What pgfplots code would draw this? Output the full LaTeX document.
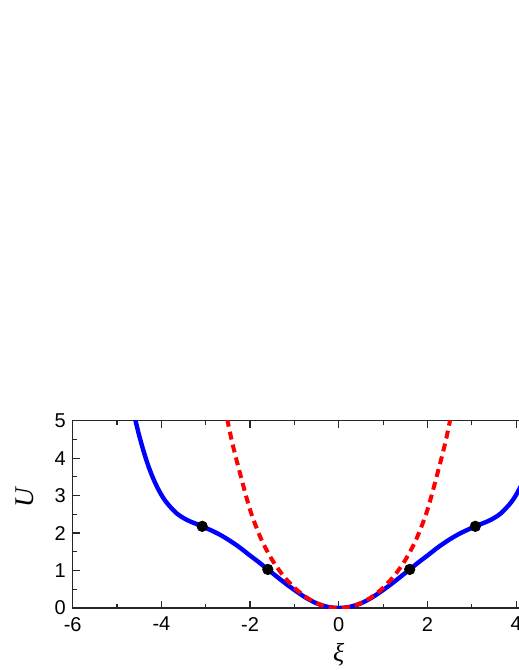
\documentclass[border=0pt]{standalone}
\usepackage{fontspec}
\setmainfont{Liberation Sans}
\newfontfamily\tnr{Liberation Serif}
\usepackage{pgfplots}
\usepackage{pgfplotstable}
\pgfplotsset{compat=1.18}

% potential U(xi)
\pgfplotstableread{
x y
-4.60 5.08
-4.50 4.60
-4.40 4.18
-4.30 3.81
-4.20 3.50
-4.10 3.24
-4.00 3.02
-3.90 2.84
-3.80 2.70
-3.65 2.52
-3.50 2.40
-3.35 2.31
-3.08 2.18
-2.75 2.00
-2.50 1.83
-2.25 1.63
-2.00 1.40
-1.80 1.22
-1.60 1.03
-1.25 0.70
-1.00 0.48
-0.75 0.28
-0.50 0.125
-0.25 0.031
0.00 0.00
0.25 0.031
0.50 0.125
0.75 0.28
1.00 0.48
1.25 0.70
1.60 1.03
1.80 1.22
2.00 1.40
2.25 1.63
2.50 1.83
2.75 2.00
3.08 2.18
3.35 2.31
3.50 2.40
3.65 2.52
3.80 2.70
3.90 2.84
4.00 3.02
4.10 3.24
4.20 3.50
4.30 3.81
4.40 4.18
4.50 4.60
4.60 5.08
}\ublue

% harmonic-like approximation
\pgfplotstableread{
x y
-2.52 5.05
-2.50 4.95
-2.40 4.40
-2.25 3.70
-2.00 2.62
-1.75 1.84
-1.50 1.28
-1.25 0.86
-1.00 0.54
-0.75 0.30
-0.50 0.13
-0.25 0.03
0.00 0.00
0.25 0.03
0.50 0.13
0.75 0.30
1.00 0.54
1.25 0.86
1.50 1.28
1.75 1.84
2.00 2.62
2.25 3.70
2.40 4.40
2.50 4.95
2.52 5.05
}\ured

\begin{document}
\begin{tikzpicture}
\begin{axis}[
  x=22.17pt, y=18.73pt,
  xmin=-6, xmax=6, ymin=0, ymax=5,
  axis line style={line width=0.75pt, black!85},
  tick style={line width=0.6pt, black!85},
  tick align=inside,
  major tick length=3.5pt, minor tick length=2pt,
  xtick={-6,-4,-2,0,2,4,6},
  xticklabels={-6,-4,-2,0,2,4,6},
  ytick={0,1,2,3,4,5},
  yticklabels={0,1,2,3,4,5},
  minor x tick num=1, minor y tick num=1,
  ticklabel style={font=\fontsize{10}{12}\selectfont},
  xticklabel style={yshift=-1pt},
  xlabel={{\tnr\itshape ξ}},
  ylabel={{\tnr\itshape U}},
  xlabel style={at={(axis cs:0,-1.26)}, anchor=center, font=\fontsize{13}{15}\selectfont},
  ylabel style={at={(axis cs:-7.08,2.94)}, anchor=center, font=\fontsize{13.5}{15}\selectfont},
]
\addplot[blue, line width=2.2pt, smooth] table[x=x, y=y] {\ublue};
\addplot[red, line width=2pt, dash pattern=on 4pt off 2.6pt, smooth] table[x=x, y=y] {\ured};
\addplot[only marks, mark=*, mark size=2.6pt, black] coordinates {
  (-3.08,2.18) (-1.60,1.03) (1.60,1.03) (3.08,2.18)};
\coordinate (bbl) at (axis cs:-7.64,-1.655);
\coordinate (btr) at (axis cs:4.045,16.23);
\end{axis}
\pgfresetboundingbox
\path[use as bounding box] (bbl) rectangle (btr);
\end{tikzpicture}
\end{document}
